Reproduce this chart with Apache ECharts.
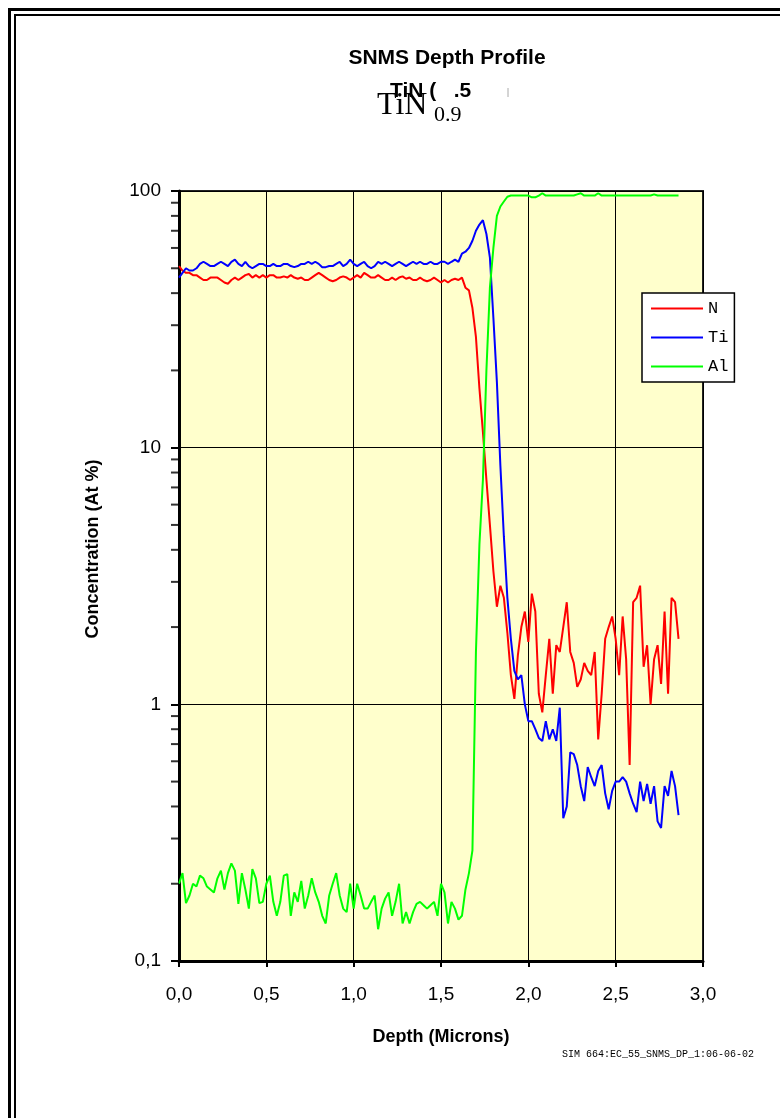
<!DOCTYPE html>
<html>
<head>
<meta charset="utf-8">
<title>SNMS Depth Profile</title>
<script src="https://cdn.jsdelivr.net/npm/echarts@6.0.0/dist/echarts.min.js"></script>
<style>
  html, body { margin: 0; padding: 0; background: #fff; }
  #chart { width: 780px; height: 1118px; }
</style>
</head>
<body>
<div id="chart"></div>
<script>
// depth sampled every 0.02 micron from 0
const depthStep = 0.02;

// N (red)
const nVals = [51,49,48,48,47,47,46,45,45,46,
  46,46,45,44,43.5,45,46,45,46,47,
  47.5,46,47,46,47,46,47,47,46,46,
  46.5,46,47,46,45.5,46,45,45,46,47,
  48,47,46,45,44.5,45,46,46.5,46,45,
  46,47,46,48,47,46,46,47,46,45,
  45,46,45,46,46.5,45.5,46,45,45,46,
  45,44.5,45,46,45,44,45,44,45,45.5,
  45,46,42,41,35,27,17,11.5,7.5,5.0,
  3.3,2.4,2.9,2.6,1.9,1.3,1.05,1.55,2.0,2.3,
  1.75,2.7,2.3,1.1,0.93,1.3,1.8,1.1,1.7,1.6,
  2.0,2.5,1.6,1.45,1.17,1.25,1.45,1.35,1.3,1.6,
  0.73,1.1,1.8,2.0,2.2,1.8,1.3,2.2,1.5,0.58,
  2.5,2.6,2.9,1.4,1.7,1.0,1.5,1.7,1.2,2.3,
  1.1,2.6,2.5,1.8];

// Ti (blue)
const tiVals = [46,48,50,49,49,50,52,53,52,51,
  51,52,53,52,51,53,54,52,51,53,
  51,50,51,52,52,51,51,52,51,51,
  52,52,51,50.5,51,52,52,53,52,53,
  52,50.5,50.5,51,51,52,53,51,52,54,
  52,51,52,53,51,50,51,53,52,53,
  52,51,52,53,52,51,52,53,52,53,
  52,52,53,52,52,53,53,52,53,54,
  53,57,58,60,64,70,74,77,68,55,
  32,18,8.5,4.5,2.6,1.8,1.35,1.25,1.3,1.0,
  0.86,0.86,0.8,0.74,0.72,0.86,0.73,0.8,0.72,0.97,
  0.36,0.4,0.65,0.64,0.58,0.48,0.42,0.57,0.52,0.48,
  0.55,0.58,0.45,0.39,0.46,0.5,0.5,0.52,0.5,0.45,
  0.41,0.38,0.5,0.42,0.49,0.41,0.48,0.35,0.33,0.48,
  0.44,0.55,0.48,0.37];

// Al (green)
const alVals = [0.2,0.22,0.168,0.18,0.2,0.195,0.215,0.21,0.195,0.19,
  0.185,0.21,0.225,0.19,0.22,0.24,0.225,0.167,0.22,0.19,
  0.16,0.228,0.21,0.168,0.17,0.2,0.215,0.17,0.15,0.17,
  0.215,0.218,0.15,0.185,0.17,0.205,0.16,0.18,0.21,0.185,
  0.17,0.15,0.14,0.18,0.2,0.22,0.18,0.16,0.155,0.2,
  0.16,0.2,0.18,0.16,0.16,0.17,0.18,0.133,0.16,0.175,
  0.185,0.15,0.17,0.2,0.14,0.155,0.14,0.155,0.167,0.17,
  0.165,0.16,0.165,0.17,0.15,0.2,0.185,0.14,0.17,0.16,
  0.145,0.15,0.19,0.22,0.27,1.6,4.2,7.5,20,42,
  60,80,87,91,95,96,96,96,96,96,
  96,94.5,94.5,96,98,96,96,96,96,96,
  96,96,96,96,97,98,96,96,96,96,
  98,96,96,96,96,96,96,96,96,96,
  96,96,96,96,96,96,97,96,96,96,
  96,96,96,96];

const seriesNames = ['N', 'Ti', 'Al'];
const seriesColors = ['#ff0000', '#0000ff', '#00ff00'];

// minor log ticks on the left axis
const minorTickVals = [0.2,0.3,0.4,0.5,0.6,0.7,0.8,0.9,
  2,3,4,5,6,7,8,9, 20,30,40,50,60,70,80,90];

const sansFont = '"Liberation Sans", Arial, sans-serif';
const serifFont = '"Liberation Serif", "Times New Roman", serif';
const monoFont = '"Liberation Mono", "Courier New", monospace';

function pairs(vals) {
  return vals.map((v, i) => [+(i * depthStep).toFixed(2), v]);
}

const comma = (v) => String(v).replace('.', ',');

const chart = echarts.init(document.getElementById('chart'));

const option = {
  animation: false,
  backgroundColor: '#fff',
  grid: {
    left: 179, top: 191, width: 524, height: 770,
    show: true,
    backgroundColor: '#ffffcc',
    borderColor: '#222',
    borderWidth: 2
  },
  legend: {
    data: seriesNames,
    orient: 'vertical',
    left: 642,
    top: 293,
    backgroundColor: '#fff',
    borderColor: '#000',
    borderWidth: 1.5,
    padding: [7, 6, 7, 8],
    itemWidth: 52,
    itemHeight: 14,
    itemGap: 12,
    itemStyle: { opacity: 0 },
    textStyle: { fontFamily: monoFont, fontSize: 17, color: '#000' }
  },
  xAxis: {
    type: 'value',
    min: 0, max: 3, interval: 0.5,
    name: 'Depth (Microns)',
    nameLocation: 'middle',
    nameGap: 67,
    nameTextStyle: { fontFamily: sansFont, fontSize: 18, fontWeight: 'bold', color: '#000' },
    axisLine: { show: true, lineStyle: { color: '#000', width: 3 } },
    axisTick: { show: true, length: 6, lineStyle: { color: '#000', width: 2 } },
    axisLabel: {
      margin: 24,
      fontFamily: sansFont, fontSize: 19, color: '#000',
      formatter: (v) => v.toFixed(1).replace('.', ',')
    },
    splitLine: { show: true, lineStyle: { color: '#000', width: 1 } }
  },
  yAxis: {
    type: 'log',
    logBase: 10,
    min: 0.1, max: 100,
    axisLine: { show: true, lineStyle: { color: '#000', width: 3 } },
    axisTick: { show: true, length: 8, lineStyle: { color: '#000', width: 2 } },
    axisLabel: {
      margin: 18,
      fontFamily: sansFont, fontSize: 19, color: '#000',
      formatter: (v) => comma(+v.toPrecision(3))
    },
    splitLine: { show: true, lineStyle: { color: '#000', width: 1 } }
  },
  series: [
    {
      name: 'N', type: 'line', data: pairs(nVals),
      symbol: 'none', color: seriesColors[0],
      lineStyle: { width: 2, color: seriesColors[0] }
    },
    {
      name: 'Ti', type: 'line', data: pairs(tiVals),
      symbol: 'none', color: seriesColors[1],
      lineStyle: { width: 2, color: seriesColors[1] }
    },
    {
      name: 'Al', type: 'line', data: pairs(alVals),
      symbol: 'none', color: seriesColors[2],
      lineStyle: { width: 2, color: seriesColors[2] }
    },
    {
      // minor ticks of the log axis, drawn through the axis scale
      name: 'minorTicks', type: 'scatter',
      data: minorTickVals.map((v) => [0, v]),
      symbol: 'rect', symbolSize: [8, 2], symbolOffset: [-4, 0],
      itemStyle: { color: '#000' },
      clip: false, silent: true, z: 5
    }
  ],
  graphic: [
    { type: 'rect', silent: true, shape: { x: 9.5, y: 9.5, width: 1000, height: 1400 },
      style: { fill: 'none', stroke: '#000', lineWidth: 3 } },
    { type: 'rect', silent: true, shape: { x: 15, y: 15, width: 1000, height: 1400 },
      style: { fill: 'none', stroke: '#000', lineWidth: 2 } },
    { type: 'text', x: 447, y: 58,
      style: { text: 'SNMS Depth Profile', font: 'bold 21px ' + sansFont, fill: '#000',
               align: 'center', verticalAlign: 'middle' } },
    { type: 'text', x: 377, y: 106,
      style: { text: 'TiN', font: '32px ' + serifFont, fill: '#000',
               align: 'left', verticalAlign: 'middle' } },
    { type: 'text', x: 434, y: 115,
      style: { text: '0.9', font: '22px ' + serifFont, fill: '#000',
               align: 'left', verticalAlign: 'middle' } },
    { type: 'text', x: 390, y: 91,
      style: { text: 'TiN (   .5', font: 'bold 21px ' + sansFont, fill: '#000',
               align: 'left', verticalAlign: 'middle' } },
    { type: 'line', silent: true, shape: { x1: 508, y1: 88, x2: 508, y2: 97 },
      style: { stroke: '#aaa', lineWidth: 1 } },
    { type: 'text', x: 93, y: 549, rotation: Math.PI / 2,
      style: { text: 'Concentration (At %)', font: 'bold 18px ' + sansFont, fill: '#000',
               align: 'center', verticalAlign: 'middle' } },
    { type: 'text', x: 562, y: 1054,
      style: { text: 'SIM 664:EC_55_SNMS_DP_1:06-06-02', font: '10px ' + monoFont, fill: '#000',
               align: 'left', verticalAlign: 'middle' } }
  ]
};

chart.setOption(option);
</script>
</body>
</html>
